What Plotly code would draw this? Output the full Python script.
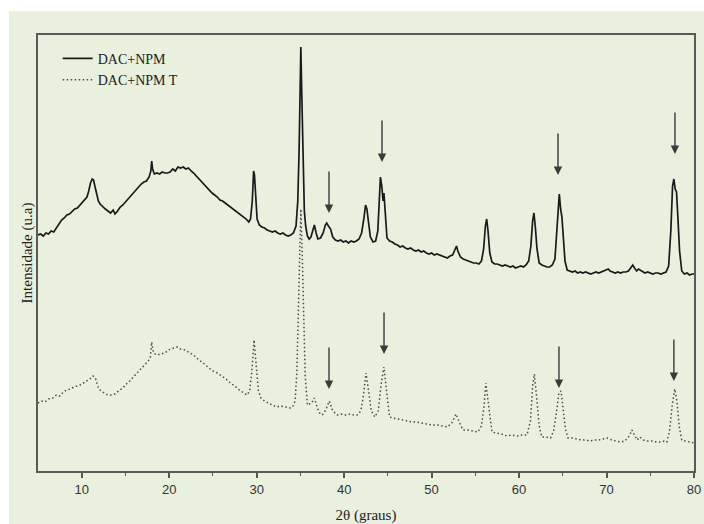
import plotly.graph_objects as go

# ---------------- data ----------------
two_theta_a = [5.0, 5.3, 5.6, 5.9, 6.2, 6.5, 6.8, 7.1, 7.4, 7.7, 8.0, 8.3, 8.6, 8.9, 9.2, 9.5, 9.8, 10.1, 10.4,
               10.6, 10.8, 11.0, 11.2, 11.35, 11.5, 11.7, 11.9, 12.1, 12.4, 12.7, 13.0, 13.3, 13.6, 13.8, 14.1,
               14.4, 14.7, 15.0, 15.3, 15.6, 15.9, 16.2, 16.5, 16.8, 17.1, 17.4, 17.7, 17.9, 18.0, 18.1, 18.3,
               18.6, 18.9, 19.2, 19.5, 19.8, 20.1, 20.4, 20.7, 21.0, 21.3, 21.6, 21.9, 22.2, 22.5, 22.8, 23.1,
               23.4, 23.7, 24.0, 24.3, 24.6, 24.9, 25.2, 25.5, 25.8, 26.1, 26.4, 26.7, 27.0, 27.3, 27.6, 27.9,
               28.2, 28.5, 28.8, 29.1, 29.3, 29.5, 29.65, 29.75, 29.9, 30.05, 30.3, 30.6, 30.9, 31.2, 31.5, 31.8,
               32.1, 32.4, 32.7, 33.0, 33.3, 33.6, 33.9, 34.2, 34.5, 34.7, 34.85, 34.95, 35.05, 35.15, 35.3,
               35.45, 35.6, 35.8, 36.0, 36.2, 36.4, 36.6, 36.8, 37.0, 37.3, 37.6, 37.85, 38.0, 38.2, 38.45, 38.7,
               39.0, 39.3, 39.6, 39.9, 40.2, 40.5, 40.8, 41.1, 41.4, 41.7, 42.0, 42.25, 42.45, 42.6, 42.8, 43.0,
               43.3, 43.6, 43.85, 44.0, 44.15, 44.3, 44.45, 44.55, 44.7, 44.9, 45.2, 45.5, 45.8, 46.1, 46.4, 46.7,
               47.0, 47.3, 47.6, 47.9, 48.2, 48.5, 48.8, 49.1, 49.4, 49.7, 50.0, 50.3, 50.6, 50.9, 51.2, 51.5,
               51.8, 52.1, 52.4, 52.7, 52.85, 53.0, 53.3, 53.6, 53.9, 54.2, 54.5, 54.8, 55.1, 55.4, 55.7, 55.95,
               56.15, 56.3, 56.45, 56.65, 56.9, 57.2, 57.5, 57.8, 58.1, 58.4, 58.7, 59.0, 59.3, 59.6, 59.9, 60.2,
               60.5, 60.8, 61.1, 61.35, 61.55, 61.7, 61.85, 62.05, 62.3, 62.6, 62.9, 63.2, 63.5, 63.8, 64.1, 64.3,
               64.45, 64.6, 64.75, 64.9, 65.05, 65.25, 65.5, 65.8, 66.1, 66.4, 66.7, 67.0, 67.3, 67.6, 67.9, 68.2,
               68.5, 68.8, 69.1, 69.4, 69.7, 70.0, 70.2, 70.4, 70.7, 71.0, 71.3, 71.6, 71.9, 72.2, 72.5, 72.8,
               73.0, 73.2, 73.45, 73.65, 73.85, 74.1, 74.4, 74.7, 75.0, 75.3, 75.6, 75.9, 76.2, 76.5, 76.8, 77.1,
               77.35, 77.55, 77.7, 77.85, 78.0, 78.15, 78.35, 78.6, 78.9, 79.2, 79.5, 79.8, 80.0]
intensity_a = [236, 237, 235, 238, 237, 240, 239, 243, 246, 251, 253, 256, 257, 260, 262, 263, 266, 268, 271,
               274, 280, 288, 292, 291, 285, 276, 270, 267, 264, 262, 260, 258, 261, 257, 260,
               264, 266, 269, 272, 275, 278, 282, 285, 287, 289, 290, 294, 300, 310, 302, 297,
               298, 297, 299, 298, 298, 299, 302, 300, 304, 303, 304, 302, 303, 300, 298, 295,
               292, 289, 287, 283, 281, 278, 276, 274, 271, 270, 268, 266, 264, 262, 260, 258,
               256, 254, 252, 249, 252, 270, 300, 296, 268, 252, 246, 244, 243, 241, 240, 239,
               240, 238, 237, 238, 236, 235, 236, 238, 245, 270, 320, 400, 424, 380, 300,
               260, 245, 235, 232, 234, 240, 246, 238, 232, 233, 238, 246, 248, 245, 242, 234,
               231, 230, 231, 229, 230, 228, 230, 229, 230, 232, 238, 252, 266, 262, 245, 234,
               229, 230, 240, 270, 294, 285, 270, 278, 255, 233, 230, 229, 227, 226, 224, 225,
               223, 222, 223, 221, 220, 221, 219, 220, 218, 217, 218, 216, 217, 216, 215, 214,
               213, 215, 216, 222, 225, 220, 214, 212, 211, 210, 209, 208, 208, 207, 210, 222,
               245, 252, 240, 218, 209, 207, 207, 206, 205, 206, 205, 204, 205, 203, 204, 205,
               204, 206, 210, 225, 250, 258, 245, 222, 208, 206, 205, 204, 204, 206, 212, 240,
               268, 277, 262, 254, 235, 210, 201, 200, 199, 200, 198, 199, 198, 199, 198, 197,
               198, 199, 198, 199, 200, 201, 202, 200, 199, 198, 199, 198, 199, 199, 200, 204,
               206, 203, 200, 202, 201, 199, 198, 199, 198, 197, 198, 198, 197, 198, 199, 205,
               240, 285, 292, 282, 279, 255, 220, 200, 197, 198, 196, 197, 197]

two_theta_b = [5.0, 5.4, 5.8, 6.2, 6.7, 7.1, 7.5, 7.9, 8.3, 8.7, 9.1, 9.5, 9.8, 10.2, 10.5, 10.8, 11.1, 11.3,
               11.6, 11.9, 12.2, 12.6, 13.0, 13.4, 13.8, 14.2, 14.7, 15.1, 15.5, 15.9, 16.3, 16.7, 17.2, 17.6,
               17.85, 18.0, 18.2, 18.6, 19.0, 19.5, 19.9, 20.3, 20.9, 21.3, 21.8, 22.4, 22.9, 23.4, 23.9, 24.4,
               25.0, 25.5, 26.0, 26.5, 27.0, 27.5, 28.0, 28.5, 28.9, 29.2, 29.45, 29.7, 29.95, 30.2, 30.5, 30.9,
               31.3, 31.8, 32.3, 32.8, 33.3, 33.8, 34.1, 34.4, 34.6, 34.75, 34.9, 35.05, 35.2, 35.35, 35.55, 35.8,
               36.3, 36.6, 36.9, 37.2, 37.5, 37.9, 38.3, 38.7, 39.2, 39.7, 40.2, 40.7, 41.1, 41.5, 41.9, 42.2,
               42.5, 42.8, 43.1, 43.5, 43.9, 44.2, 44.55, 44.85, 45.2, 45.6, 46.1, 46.6, 47.2, 47.8, 48.3, 48.9,
               49.5, 50.1, 50.7, 51.3, 51.8, 52.3, 52.8, 53.2, 53.6, 54.1, 54.7, 55.3, 55.7, 56.0, 56.2, 56.45,
               56.9, 57.4, 58.0, 58.6, 59.2, 59.8, 60.4, 60.9, 61.3, 61.55, 61.75, 62.0, 62.3, 62.6, 63.1, 63.6,
               63.95, 64.3, 64.55, 64.8, 65.05, 65.3, 65.6, 66.1, 66.6, 67.1, 67.6, 68.1, 68.6, 69.1, 69.6, 70.1,
               70.6, 71.1, 71.6, 72.1, 72.6, 72.9, 73.2, 73.5, 73.8, 74.2, 74.7, 75.2, 75.7, 76.2, 76.6, 76.9,
               77.2, 77.5, 77.8, 78.05, 78.3, 78.6, 79.0, 79.4, 79.9, 80.0]
intensity_b = [68, 70, 69, 72, 73, 76, 75, 79, 81, 82, 84, 85, 86, 88, 90, 91, 93, 95,
               92, 83, 80, 78, 76, 76, 77, 80, 83, 87, 90, 94, 98, 102, 106, 110,
               114, 129, 118, 116, 117, 118, 121, 122, 124, 122, 121, 118, 115, 111, 108, 104,
               100, 98, 95, 92, 88, 85, 81, 78, 76, 80, 100, 131, 105, 80, 73, 70,
               68, 66, 64, 65, 64, 63, 64, 70, 100, 160, 230, 262, 220, 150, 95, 66,
               68, 73, 64, 58, 56, 61, 70, 60, 56, 57, 56, 57, 56, 56, 60, 75,
               98, 80, 60, 54, 60, 85, 104, 80, 54, 53, 52, 51, 50, 49, 49, 48,
               47, 46, 46, 45, 44, 48, 57, 48, 41, 41, 40, 39, 45, 65, 88, 70,
               39, 38, 37, 35, 36, 35, 36, 36, 50, 85, 97, 75, 45, 34, 34, 33,
               40, 60, 78, 80, 62, 42, 33, 33, 32, 31, 31, 30, 31, 31, 32, 33,
               31, 30, 29, 30, 35, 41, 36, 31, 34, 31, 30, 30, 29, 29, 30, 29,
               40, 65, 82, 70, 45, 31, 30, 29, 28, 28]

series_names = ["DAC+NPM", "DAC+NPM T"]
x_ticks = [10, 20, 30, 40, 50, 60, 70, 80]

# marked reflections (arrows): x position and tip value for each curve
arrow_x_a = [38.27, 44.33, 64.45, 77.82]
arrow_tip_a = [258, 309, 296, 317]
arrow_x_b = [38.27, 44.56, 64.56, 77.7]
arrow_tip_b = [82, 117, 83, 90]

# ---------------- figure ----------------
BG = "#e9f0dd"
fig = go.Figure()
fig.add_trace(go.Scatter(x=two_theta_a, y=intensity_a, mode="lines", name=series_names[0],
                         line=dict(color="#1a1a1a", width=1.7)))
fig.add_trace(go.Scatter(x=two_theta_b, y=intensity_b, mode="lines", name=series_names[1],
                         line=dict(color="#4a4a4a", width=1.5, dash="1.5px,2.5px")))

annotations = []
for xs, ts in ((arrow_x_a, arrow_tip_a), (arrow_x_b, arrow_tip_b)):
    for xv, tv in zip(xs, ts):
        annotations.append(dict(x=xv, y=tv, xref="x", yref="y", text="", showarrow=True,
                                ax=0, ay=-43, arrowhead=2, arrowsize=1.2, arrowwidth=1.4,
                                arrowcolor="#3a3a3a", standoff=0))

shapes = [
    dict(type="rect", xref="paper", yref="paper", x0=-0.2, x1=1.2, y0=1.055, y1=1.2,
         fillcolor="white", line=dict(width=0), layer="below"),
    dict(type="rect", xref="paper", yref="paper", x0=-0.2, x1=-0.0442, y0=-0.3, y1=1.2,
         fillcolor="white", line=dict(width=0), layer="below"),
]

fig.update_layout(
    width=704, height=524,
    margin=dict(l=38, r=10, t=35, b=53),
    paper_bgcolor=BG, plot_bgcolor=BG,
    showlegend=True,
    legend=dict(x=0.03, y=0.982, xanchor="left", yanchor="top", bgcolor="rgba(0,0,0,0)",
                font=dict(family="Liberation Serif", size=14, color="#222"),
                tracegroupgap=0, itemwidth=30),
    annotations=annotations,
    shapes=shapes,
)
fig.update_xaxes(range=[5, 80], tickvals=x_ticks, ticks="outside", ticklen=5, tickwidth=1.5,
                 tickcolor="#555", showline=True, linecolor="#5a5a5a", linewidth=2, mirror=True,
                 showgrid=False, zeroline=False,
                 tickfont=dict(family="Liberation Sans", size=13, color="#333"),
                 minor=dict(tickvals=[15, 25, 35, 45, 55, 65, 75], ticks="outside", ticklen=3,
                            tickcolor="#555", tickwidth=1.2),
                 title=dict(text="2θ (graus)", font=dict(family="Liberation Serif", size=15, color="#222"),
                            standoff=15),
                 automargin=False)
fig.update_yaxes(range=[0, 436], showticklabels=False, ticks="", showline=True, linecolor="#5a5a5a",
                 linewidth=2, mirror=True, showgrid=False, zeroline=False,
                 title=dict(text="Intensidade (u.a)", font=dict(family="Liberation Serif", size=15, color="#222"),
                            standoff=0),
                 automargin=False)

fig.write_html("out.html")
